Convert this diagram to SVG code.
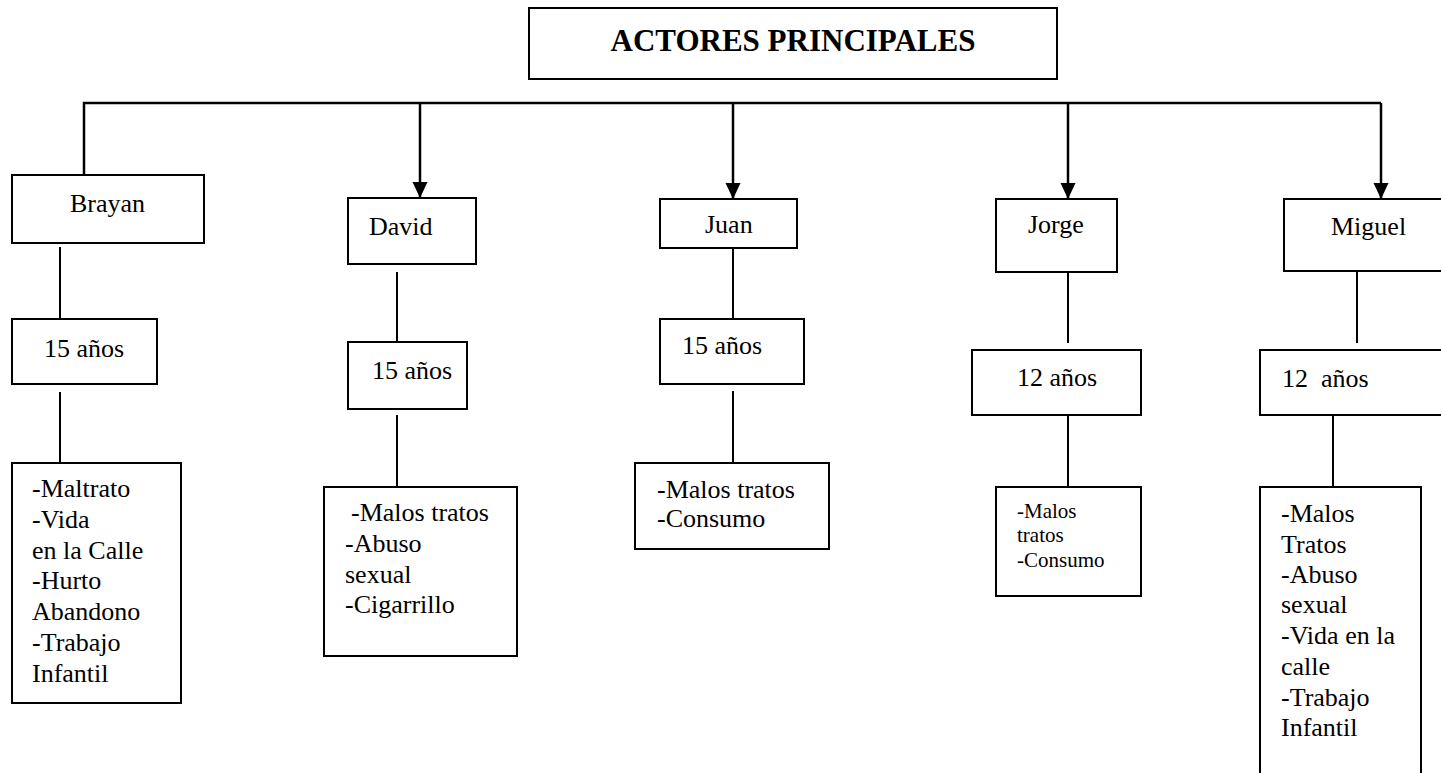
<svg xmlns="http://www.w3.org/2000/svg" width="1441" height="773" viewBox="0 0 1441 773">
<style>
  .box { fill: #ffffff; stroke: #000000; stroke-width: 2; }
  .t { font-family: "Liberation Serif", "Times New Roman", serif; font-size: 26px; fill: #000000; }
  .s { font-family: "Liberation Serif", "Times New Roman", serif; font-size: 21px; fill: #000000; }
  .title { font-family: "Liberation Serif", "Times New Roman", serif; font-size: 31px; font-weight: bold; fill: #000000; }
  .main { fill: none; stroke: #000000; stroke-width: 2.5; }
  .sub { fill: none; stroke: #000000; stroke-width: 2; }
</style>
<defs>
  <marker id="arrow" markerUnits="userSpaceOnUse" markerWidth="16" markerHeight="16" viewBox="0 0 16 16" refX="16" refY="8" orient="auto">
    <path d="M0,0.5 L16,8 L0,15.5 z" fill="#000000"/>
  </marker>
</defs>
<rect width="1441" height="773" fill="#ffffff"/>

<g id="connectors">
  <path class="main" d="M84,175 V103 H1381"/>
  <path class="main" d="M420,103 V198" marker-end="url(#arrow)"/>
  <path class="main" d="M733,103 V199" marker-end="url(#arrow)"/>
  <path class="main" d="M1068,103 V199" marker-end="url(#arrow)"/>
  <path class="main" d="M1381,103 V199" marker-end="url(#arrow)"/>
  <path class="sub" d="M60,247 V319"/>
  <path class="sub" d="M60,392 V463"/>
  <path class="sub" d="M397,272 V342"/>
  <path class="sub" d="M397,415 V487"/>
  <path class="sub" d="M733,248 V319"/>
  <path class="sub" d="M733,391 V463"/>
  <path class="sub" d="M1068,272 V343"/>
  <path class="sub" d="M1068,415 V487"/>
  <path class="sub" d="M1357,271 V343"/>
  <path class="sub" d="M1333,415 V487"/>
</g>

<g id="title">
  <rect class="box" x="529" y="8" width="528" height="71"/>
  <text class="title" x="793" y="51" text-anchor="middle">ACTORES PRINCIPALES</text>
</g>

<g id="brayan">
  <rect class="box" x="12" y="175" width="192" height="68"/>
  <text class="t" x="70" y="212">Brayan</text>
</g>
<g id="brayan-edad">
  <rect class="box" x="12" y="319" width="145" height="65"/>
  <text class="t" x="44" y="357">15 años</text>
</g>
<g id="brayan-detalle">
  <rect class="box" x="12" y="463" width="169" height="240"/>
  <text class="t" x="32" y="497">-Maltrato</text>
  <text class="t" x="32" y="528">-Vida</text>
  <text class="t" x="32" y="559">en la Calle</text>
  <text class="t" x="32" y="589">-Hurto</text>
  <text class="t" x="32" y="620">Abandono</text>
  <text class="t" x="32" y="651">-Trabajo</text>
  <text class="t" x="32" y="682">Infantil</text>
</g>

<g id="david">
  <rect class="box" x="348" y="198" width="128" height="66"/>
  <text class="t" x="369" y="235">David</text>
</g>
<g id="david-edad">
  <rect class="box" x="348" y="342" width="119" height="67"/>
  <text class="t" x="372" y="379">15 años</text>
</g>
<g id="david-detalle">
  <rect class="box" x="324" y="487" width="193" height="169"/>
  <text class="t" x="351" y="521">-Malos tratos</text>
  <text class="t" x="345" y="552">-Abuso</text>
  <text class="t" x="345" y="583">sexual</text>
  <text class="t" x="345" y="613">-Cigarrillo</text>
</g>

<g id="juan">
  <rect class="box" x="660" y="199" width="137" height="49"/>
  <text class="t" x="705" y="233">Juan</text>
</g>
<g id="juan-edad">
  <rect class="box" x="660" y="319" width="144" height="65"/>
  <text class="t" x="682" y="354">15 años</text>
</g>
<g id="juan-detalle">
  <rect class="box" x="635" y="463" width="194" height="86"/>
  <text class="t" x="657" y="498">-Malos tratos</text>
  <text class="t" x="657" y="527">-Consumo</text>
</g>

<g id="jorge">
  <rect class="box" x="996" y="199" width="121" height="73"/>
  <text class="t" x="1028" y="233">Jorge</text>
</g>
<g id="jorge-edad">
  <rect class="box" x="972" y="350" width="169" height="65"/>
  <text class="t" x="1017" y="386">12 años</text>
</g>
<g id="jorge-detalle">
  <rect class="box" x="996" y="487" width="145" height="109"/>
  <text class="s" x="1017" y="518">-Malos</text>
  <text class="s" x="1017" y="542">tratos</text>
  <text class="s" x="1017" y="567">-Consumo</text>
</g>

<g id="miguel">
  <rect class="box" x="1284" y="199" width="170" height="72"/>
  <text class="t" x="1331" y="235">Miguel</text>
</g>
<g id="miguel-edad">
  <rect class="box" x="1260" y="350" width="200" height="65"/>
  <text class="t" x="1282" y="387" xml:space="preserve">12  años</text>
</g>
<g id="miguel-detalle">
  <rect class="box" x="1260" y="487" width="161" height="300"/>
  <text class="t" x="1281" y="522">-Malos</text>
  <text class="t" x="1281" y="553">Tratos</text>
  <text class="t" x="1281" y="583">-Abuso</text>
  <text class="t" x="1281" y="613">sexual</text>
  <text class="t" x="1281" y="644">-Vida en la</text>
  <text class="t" x="1281" y="675">calle</text>
  <text class="t" x="1281" y="706">-Trabajo</text>
  <text class="t" x="1281" y="736">Infantil</text>
</g>
</svg>
